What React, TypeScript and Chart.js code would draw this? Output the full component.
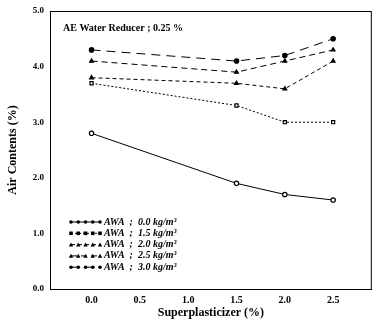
import React, { useEffect, useRef } from "react";
import { Chart, registerables } from "chart.js";

Chart.register(...registerables);

const xValues = [0.0, 1.5, 2.0, 2.5];
const xTicks = [0.0, 0.5, 1.0, 1.5, 2.0, 2.5];
const yTicks = [0.0, 1.0, 2.0, 3.0, 4.0, 5.0];

const awa00 = [2.8, 1.9, 1.7, 1.6];
const awa15 = [3.7, 3.3, 3.0, 3.0];
const awa20 = [3.8, 3.7, 3.6, 4.1];
const awa25 = [4.1, 3.9, 4.1, 4.3];
const awa30 = [4.3, 4.1, 4.2, 4.5];

const seriesLabels = ["0.0", "1.5", "2.0", "2.5", "3.0"];
const seriesData = [awa00, awa15, awa20, awa25, awa30];
const dashes = [[], [2, 2], [4, 3], [6, 4], [9, 6]];
const markers = ["circle", "rect", "triangle", "triangle", "circle"];

const titleText = "AE Water Reducer ; 0.25 %";
const xTitle = "Superplasticizer (%)";
const yTitle = "Air Contents (%)";

const FONT = "'Liberation Serif', 'DejaVu Serif', serif";

export default function App() {
  const ref = useRef<HTMLCanvasElement | null>(null);
  useEffect(() => {
    document.body.style.margin = "0";
    const ctx = ref.current!;
    const frame = {
      id: "frame",
      afterDraw(chart: any) {
        const { ctx, chartArea: a } = chart;
        ctx.save();
        ctx.strokeStyle = "#000";
        ctx.lineWidth = 1;
        ctx.setLineDash([]);
        ctx.strokeRect(a.left + 0.5, a.top + 0.5, a.right - a.left - 1, a.bottom - a.top);
        // title inside plot
        ctx.fillStyle = "#000";
        ctx.font = "bold 10px " + FONT;
        ctx.textBaseline = "middle";
        ctx.textAlign = "left";
        ctx.fillText(titleText, a.left + 13, a.top + 17);
        // legend
        const ds = chart.data.datasets;
        for (let i = 0; i < ds.length; i++) {
          const y = a.top + 211 + i * 11.3;
          const x0 = a.left + 21;
          const x1 = a.left + 50;
          ctx.beginPath();
          ctx.setLineDash(dashes[i]);
          ctx.lineWidth = 1;
          ctx.moveTo(x0, y);
          ctx.lineTo(x1, y);
          ctx.stroke();
          ctx.setLineDash([]);
          for (let k = 0; k < 5; k++) {
            const px = x0 + (k * (x1 - x0)) / 4;
            ctx.beginPath();
            if (markers[i] === "rect") ctx.rect(px - 1.8, y - 1.8, 3.6, 3.6);
            else if (markers[i] === "triangle") {
              ctx.moveTo(px, y - 2.2);
              ctx.lineTo(px + 2.2, y + 1.8);
              ctx.lineTo(px - 2.2, y + 1.8);
              ctx.closePath();
            } else ctx.arc(px, y, 1.8, 0, Math.PI * 2);
            ctx.fill();
          }
          ctx.font = "italic bold 10px " + FONT;
          ctx.fillText("AWA  ;  " + seriesLabels[i] + " kg/m\u00B3", x1 + 4, y);
        }
        ctx.restore();
      },
    };
    const chart = new Chart(ctx, {
      type: "line",
      data: {
        datasets: seriesData.map((d, i) => ({
          label: seriesLabels[i],
          data: d.map((v, j) => ({ x: xValues[j], y: v })),
          borderColor: "#000",
          backgroundColor: i === 0 || i === 1 ? "#fff" : "#000",
          borderWidth: 1,
          borderDash: dashes[i],
          pointStyle: markers[i] as any,
          pointRadius: 2.2,
          pointBorderWidth: 1.2,
          pointBorderColor: "#000",
          tension: 0,
        })),
      },
      plugins: [frame],
      options: {
        animation: false,
        responsive: false,
        maintainAspectRatio: false,
        layout: { padding: { top: 11, right: 5, left: 0, bottom: 0 } },
        plugins: { legend: { display: false }, tooltip: { enabled: false } },
        scales: {
          x: {
            type: "linear",
            min: -0.43,
            max: 2.9,
            afterBuildTicks: (s: any) => {
              s.ticks = xTicks.map((v) => ({ value: v }));
            },
            afterFit: (s: any) => {
              s.height = 34;
            },
            grid: { display: false, drawTicks: true, tickLength: 4, color: "#000" },
            border: { display: true, color: "#000" },
            ticks: {
              color: "#000",
              font: { family: FONT, size: 10, weight: "bold" },
              padding: 1,
              maxRotation: 0,
              callback: (v: any) => Number(v).toFixed(1),
            },
            title: {
              display: true,
              text: xTitle,
              color: "#000",
              font: { family: FONT, size: 12, weight: "bold" },
              padding: { top: 0, bottom: 3 },
            },
          },
          y: {
            type: "linear",
            min: 0,
            max: 5,
            afterBuildTicks: (s: any) => {
              s.ticks = yTicks.map((v) => ({ value: v }));
            },
            afterFit: (s: any) => {
              s.width = 50;
            },
            grid: { display: false, drawTicks: true, tickLength: 4, color: "#000" },
            border: { display: true, color: "#000" },
            ticks: {
              color: "#000",
              font: { family: FONT, size: 9, weight: "bold" },
              padding: 2,
              callback: (v: any) => Number(v).toFixed(1),
            },
            title: {
              display: true,
              text: yTitle,
              color: "#000",
              font: { family: FONT, size: 12, weight: "bold" },
              padding: { top: 6, bottom: 0 },
            },
          },
        },
      },
    });
    return () => chart.destroy();
  }, []);
  return (
    <div style={{ width: 377, height: 323 }}>
      <canvas ref={ref} width={377} height={323} style={{ display: "block" }} />
    </div>
  );
}
